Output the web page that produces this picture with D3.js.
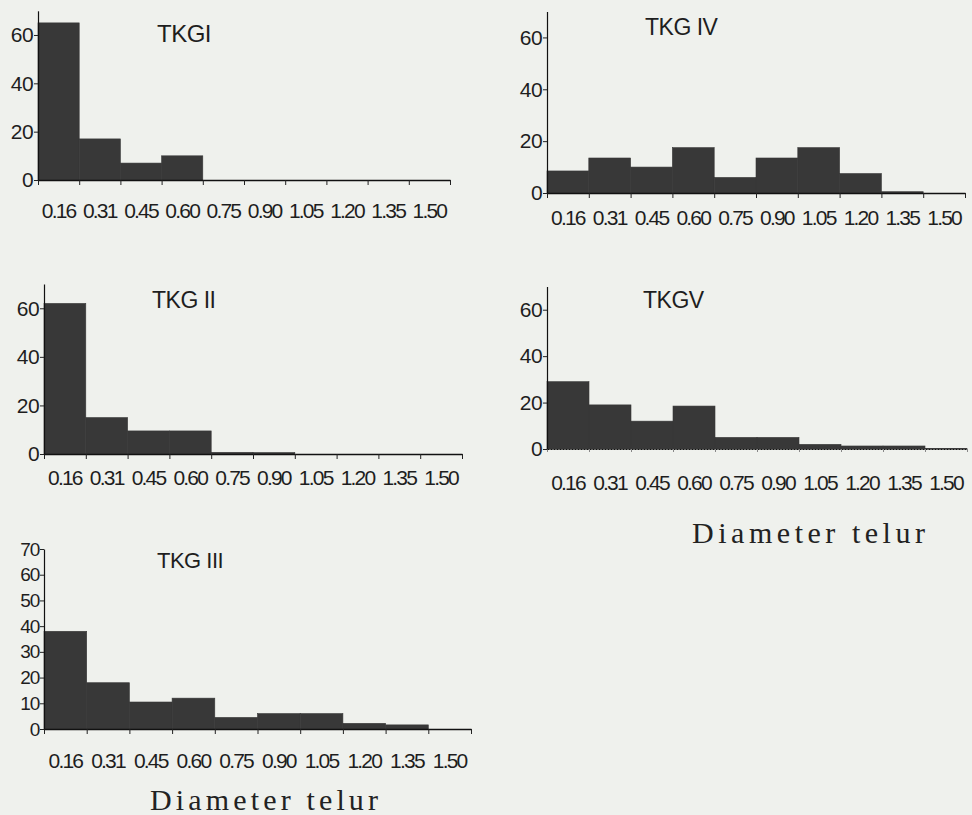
<!DOCTYPE html>
<html>
<head>
<meta charset="utf-8">
<script src="https://cdn.jsdelivr.net/npm/d3@7"></script>
<style>
  body { margin: 0; background: #eff1ed; }
  svg { display: block; }
</style>
</head>
<body>
<div id="chart"></div>
<script>
// bin labels (egg diameter classes)
const bins = ['0.16', '0.31', '0.45', '0.60', '0.75', '0.90', '1.05', '1.20', '1.35', '1.50'];

// frequency per bin
const tkg1 = [65, 17, 7, 10, 0, 0, 0, 0, 0, 0];
const tkg2 = [62, 15, 9.5, 9.5, 0.7, 0.6, 0, 0, 0, 0];
const tkg3 = [38, 18, 10.5, 12, 4.5, 6, 6, 2.2, 1.6, 0];
const tkg4 = [8.5, 13.5, 10, 17.5, 6, 13.5, 17.5, 7.5, 0.5, 0];
const tkg5 = [29, 19, 12, 18.5, 5, 5, 2, 1.3, 1.3, 0.3];

const titles = ['TKGI', 'TKG II', 'TKG III', 'TKG IV', 'TKGV'];
const ticks20 = [0, 20, 40, 60];
const ticks10 = [0, 10, 20, 30, 40, 50, 60, 70];
const xTitle = 'Diameter telur';

const width = 972;
const height = 815;
const sans = '"Liberation Sans", Arial, sans-serif';

const svg = d3.select('#chart')
  .append('svg')
  .attr('width', width)
  .attr('height', height);

// panel placement on the page
const panels = [
  { title: titles[0], data: tkg1, x0: 38, x1: 450, y0: 180, yTop: 10.8, yTicks: ticks20, tx: 157, ty: 42, tSize: 24, lab: 218, ySize: 21, ls: -0.6 },
  { title: titles[3], data: tkg4, x0: 547, x1: 965, y0: 193, yTop: 11.5, yTicks: ticks20, tx: 645, ty: 35, tSize: 23, lab: 225, ySize: 21, ls: -0.6 },
  { title: titles[1], data: tkg2, x0: 44, x1: 462, y0: 454, yTop: 284, yTicks: ticks20, tx: 152, ty: 308, tSize: 23, lab: 485, ySize: 21, ls: -0.6 },
  { title: titles[4], data: tkg5, x0: 547, x1: 967, y0: 449, yTop: 286.5, yTicks: ticks20, tx: 643, ty: 308, tSize: 23, lab: 490, ySize: 21, ls: -0.6, thin: true,
    xt: { x: 692, y: 543, w: 233 } },
  { title: titles[2], data: tkg3, x0: 44, x1: 471, y0: 729, yTop: 549, yTicks: ticks10, tx: 157, ty: 568, tSize: 22, lab: 768, ySize: 19, ls: -1.2,
    xt: { x: 150, y: 810, w: 228 } }
];

panels.forEach(p => drawPanel(p));

function drawPanel(p) {
  const g = svg.append('g');

  const x = d3.scaleBand()
    .domain(bins)
    .range([p.x0, p.x1])
    .padding(0);

  const xe = d3.scaleLinear()
    .domain([0, bins.length])
    .range([p.x0, p.x1]);

  const y = d3.scaleLinear()
    .domain([0, 70])
    .range([p.y0, p.yTop]);

  g.selectAll('rect')
    .data(p.data)
    .enter().append('rect')
    .attr('x', (d, i) => x(bins[i]))
    .attr('y', d => y(d))
    .attr('width', x.bandwidth())
    .attr('height', d => y(0) - y(d))
    .attr('fill', '#383838')
    .attr('stroke', '#383838')
    .attr('stroke-width', 0.6);

  // bin edge ticks
  const xAxis = g.append('g')
    .attr('transform', `translate(0,${p.y0})`)
    .call(d3.axisBottom(xe)
      .tickValues(d3.range(bins.length + 1))
      .tickFormat('')
      .tickSize(p.thin ? 3 : 5)
      .tickSizeOuter(0));
  xAxis.select('.domain')
    .attr('stroke', '#111')
    .attr('stroke-width', p.thin ? 1 : 1.3)
    .attr('stroke-dasharray', p.thin ? '2,1' : null);
  xAxis.selectAll('.tick line')
    .attr('stroke', p.thin ? '#888' : '#222');

  const yAxis = g.append('g')
    .attr('transform', `translate(${p.x0},0)`)
    .call(d3.axisLeft(y)
      .tickValues(p.yTicks)
      .tickSize(4)
      .tickPadding(1)
      .tickSizeOuter(0));
  yAxis.select('.domain').attr('stroke', '#111').attr('stroke-width', 1.2);
  yAxis.selectAll('.tick line').attr('stroke', '#222');
  yAxis.selectAll('text')
    .attr('fill', '#1e1e1e')
    .attr('letter-spacing', p.ls)
    .style('font-family', sans)
    .style('font-size', p.ySize + 'px');

  // class labels centred under each bin
  g.selectAll('.bin-label')
    .data(bins)
    .enter().append('text')
    .attr('class', 'bin-label')
    .attr('x', d => x(d) + x.bandwidth() / 2)
    .attr('y', p.lab)
    .attr('text-anchor', 'middle')
    .attr('fill', '#1e1e1e')
    .attr('letter-spacing', -1.8)
    .style('font-family', sans)
    .style('font-size', '21px')
    .text(d => d);

  g.append('text')
    .attr('x', p.tx)
    .attr('y', p.ty)
    .attr('fill', '#1e1e1e')
    .attr('letter-spacing', -0.5)
    .style('font-family', sans)
    .style('font-size', p.tSize + 'px')
    .text(p.title);

  if (p.xt) {
    g.append('text')
      .attr('x', p.xt.x)
      .attr('y', p.xt.y)
      .attr('fill', '#222')
      .attr('textLength', p.xt.w)
      .attr('lengthAdjust', 'spacing')
      .style('font-family', '"Liberation Serif", "Times New Roman", serif')
      .style('font-size', '30px')
      .text(xTitle);
  }
}
</script>
</body>
</html>
